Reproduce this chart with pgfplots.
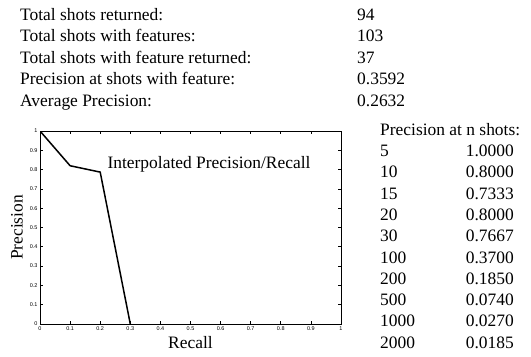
\documentclass[border=0pt]{standalone}
\usepackage{fontspec}
\setmainfont{Liberation Serif}
\setsansfont{Liberation Sans}
\usepackage{pgfplots}
\pgfplotsset{compat=1.18}
\begin{document}
\begin{tikzpicture}[x=1bp,y=1bp]
\useasboundingbox (0,0) rectangle (531,356);
\begin{axis}[
  at={(40bp,32bp)}, anchor=south west,
  width=301bp, height=193bp, scale only axis,
  xmin=0, xmax=1, ymin=0, ymax=1,
  xtick={0,0.1,...,1.01}, ytick={0,0.1,...,1.01},
  xticklabels={0,0.1,0.2,0.3,0.4,0.5,0.6,0.7,0.8,0.9,1},
  yticklabels={0,0.1,0.2,0.3,0.4,0.5,0.6,0.7,0.8,0.9,1},
  tick align=inside, tickpos=both, major tick length=3bp,
  tick style={black, line width=0.8bp},
  axis line style={line width=1bp},
  ticklabel style={font=\fontsize{5.5}{6}\sffamily},
  /pgf/number format/assume math mode=true,
  xticklabel style={yshift=1bp},
  yticklabel style={xshift=1bp},
  axis background/.style={fill=white},
]
\addplot[black, line width=1.5bp] coordinates {(0,1) (0.1,0.82) (0.2,0.787) (0.3,0)};
\end{axis}
\node[font=\fontsize{17.5}{18}\selectfont] at (209,192) {Interpolated Precision/Recall};
\node[font=\fontsize{17.5}{18}\selectfont, rotate=90] at (17,128.5) {Precision};
\node[font=\fontsize{17.5}{18}\selectfont] at (190.5,13) {Recall};
\begin{scope}[every node/.style={font=\fontsize{17.5}{18}\selectfont, inner sep=0pt}]
\node[anchor=base west] at (20,336) {Total shots returned:};
\node[anchor=base west] at (20,314.5) {Total shots with features:};
\node[anchor=base west] at (20,293) {Total shots with feature returned:};
\node[anchor=base west] at (20,271.5) {Precision at shots with feature:};
\node[anchor=base west] at (20,250) {Average Precision:};
\node[anchor=base west] at (357,336) {94};
\node[anchor=base west] at (357,314.5) {103};
\node[anchor=base west] at (357,293) {37};
\node[anchor=base west] at (357,271.5) {0.3592};
\node[anchor=base west] at (357,250) {0.2632};
\node[anchor=base west] at (380,221) {Precision at n shots:};
\foreach \n/\v [count=\i from 0] in {5/1.0000,10/0.8000,15/0.7333,20/0.8000,30/0.7667,100/0.3700,200/0.1850,500/0.0740,1000/0.0270,2000/0.0185}{
  \node[anchor=base west] at (380,199.5-21.3*\i) {\n};
  \node[anchor=base east] at (514,199.5-21.3*\i) {\v};
}
\end{scope}
\end{tikzpicture}
\end{document}
